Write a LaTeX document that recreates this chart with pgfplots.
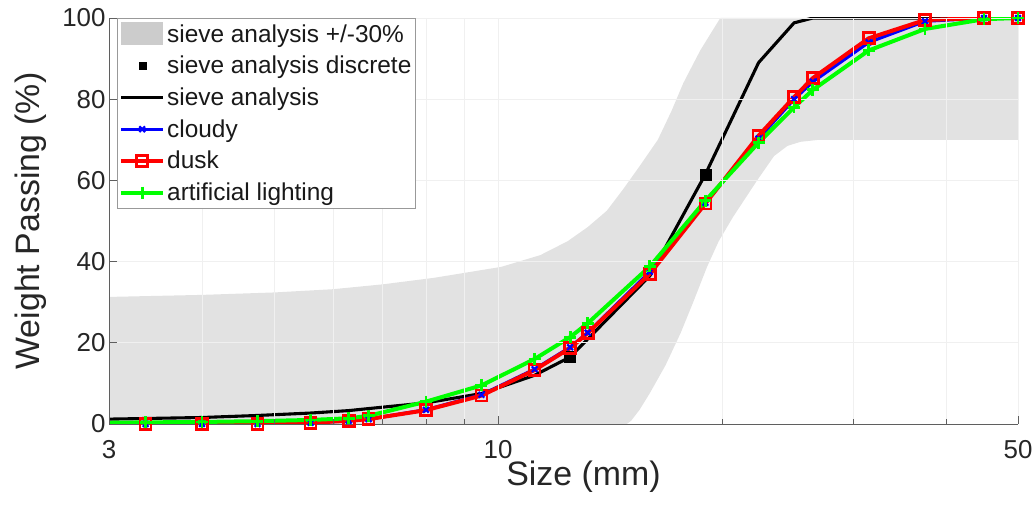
\documentclass[border=0pt]{standalone}
\usepackage{fontspec}
\setmainfont{Liberation Sans}
\usepackage{pgfplots}
\pgfplotsset{compat=1.18}
\definecolor{band}{RGB}{226,226,226}
\definecolor{bandleg}{RGB}{204,204,204}
\definecolor{axgray}{RGB}{95,95,95}
\definecolor{txt}{RGB}{38,38,38}
\definecolor{gridc}{RGB}{240,240,240}
\definecolor{mgreen}{RGB}{0,255,0}
\begin{document}
\begin{tikzpicture}
\begin{axis}[
  scale only axis, width=909bp, height=406bp,
  xmode=log, xmin=3, xmax=50, ymin=0, ymax=100,
  xtick={3,10,50}, xticklabels={3,10,50},
  minor xtick={4,5,6,7,8,9,20,30,40},
  ytick={0,20,40,60,80,100},
  axis x line*=bottom, axis y line*=left,
  axis line style={axgray, line width=0.8bp},
  tick style={axgray, line width=0.8bp},
  tick align=inside,
  major tick length=8bp, minor tick length=5bp,
  xmajorgrids, xminorgrids, ymajorgrids,
  grid style={gridc, line width=0.8bp},
  minor grid style={gridc, line width=0.8bp},
  axis on top,
  /pgf/number format/assume math mode=true,
  tick label style={font=\fontsize{26}{30}\selectfont, text=txt},
  xticklabel style={yshift=-13bp},
  label style={font=\fontsize{34}{40}\selectfont, text=txt},
  xlabel={Size (mm)}, ylabel={Weight Passing (\%)},
  xlabel style={xshift=20bp, yshift=5bp},
  ylabel style={yshift=9bp},
  legend style={at={(0.0088,1)}, anchor=north west, draw=gray!80, fill=white,
    font=\fontsize{24.5}{27}\selectfont, text=black!90, inner xsep=2bp, inner ysep=4bp,
    row sep=8.5bp, cells={anchor=west}},
  legend image code/.code={\draw[mark repeat=2,mark phase=2,#1] plot coordinates {(0bp,0bp) (21bp,0bp) (42bp,0bp)};},
]
% band
\addplot[fill=band, draw=none,
  legend image code/.code={\fill[bandleg] (0bp,-11bp) rectangle (42bp,12bp);}]
  coordinates {(3,31.3) (4,31.8) (5,32.4) (6,33.2) (7,34.4) (8.2,36) (10.1,38.7) (11.4,41.6) (12.4,45)
   (13.2,48.5) (14,52.5) (14.7,57.6) (15.5,63.5) (16.4,70) (17.1,77) (17.75,84) (18.7,92) (19.9,100) (50,100)
   (50,70) (27,70) (25.5,69.5) (24.5,68.5) (23.5,66) (22.3,60) (20.7,51) (19.8,45) (19.1,38.7) (18.3,30) (17.6,22.4)
   (16.8,14.5) (16,7.6) (15.5,3.5) (15.1,0.8) (14.9,0) (3,0)} -- cycle;
\addlegendentry{sieve analysis +/-30\%}
% discrete
\addplot[only marks, mark=square*, mark size=5.5bp, black,
  legend image code/.code={\draw[only marks, mark=square*, mark size=3.5bp, black] plot coordinates {(21bp,0bp)};}]
  coordinates {(12.5,16.5) (19,61.5)};
\addlegendentry{sieve analysis discrete}
% sieve line
\addplot[black, line width=3.1bp, no marks]
  coordinates {(3,1.2) (4,1.6) (4.75,2.1) (5.6,2.7) (6.3,3.3) (6.7,3.8) (8,5.2) (9.5,7.5)
   (11.2,12) (12.5,16.5) (16,36.5) (19,61.5) (22.4,89) (25,98.8) (26.5,100) (50,100)};
\addlegendentry{sieve analysis}
% cloudy
\addplot[blue, line width=3.2bp, mark=x, mark size=4bp, mark options={line width=2.2bp}]
  coordinates {(3.36,0) (4,0) (4.75,0) (5.6,0.3) (6.3,0.8) (6.7,1.2) (8,3.5) (9.5,7.2)
   (11.2,13.5) (12.5,18.9) (13.2,22.5) (16,37.5) (19,54.5) (22.4,70.3) (25,80) (26.5,84.3)
   (31.5,94) (37.5,99.2) (45,100) (50,100)};
\addlegendentry{cloudy}
% dusk
\addplot[red, line width=4bp, mark=square, mark size=5.5bp, mark options={line width=2.6bp}]
  coordinates {(3.36,0) (4,0) (4.75,0) (5.6,0.3) (6.3,0.8) (6.7,1.2) (8,3.4) (9.5,7)
   (11.2,13.3) (12.5,18.7) (13.2,22.4) (16,37) (19,54.3) (22.4,71) (25,80.5) (26.5,85.2)
   (31.5,95) (37.5,99.5) (45,100) (50,100)};
\addlegendentry{dusk}
% artificial lighting
\addplot[mgreen, line width=4bp, mark=+, mark size=6bp, mark options={line width=2.8bp}, mark phase=2]
  coordinates {(3,0.3) (3.36,0.4) (4,0.5) (4.75,0.7) (5.6,1.0) (6.3,1.4) (6.7,2.0) (8,5.5) (9.5,9.5)
   (11.2,16) (12.5,21.4) (13.2,24.8) (16,38.8) (19,55) (22.4,69.3) (25,78) (26.5,82.3)
   (31.5,92) (37.5,97.3) (45,99.7) (50,100)};
\addlegendentry{artificial lighting}
\end{axis}
\pgfresetboundingbox
\path[use as bounding box] ([xshift=-109bp,yshift=-84bp]current axis.south west) rectangle ([xshift=17bp,yshift=18bp]current axis.north east);
\end{tikzpicture}
\end{document}
